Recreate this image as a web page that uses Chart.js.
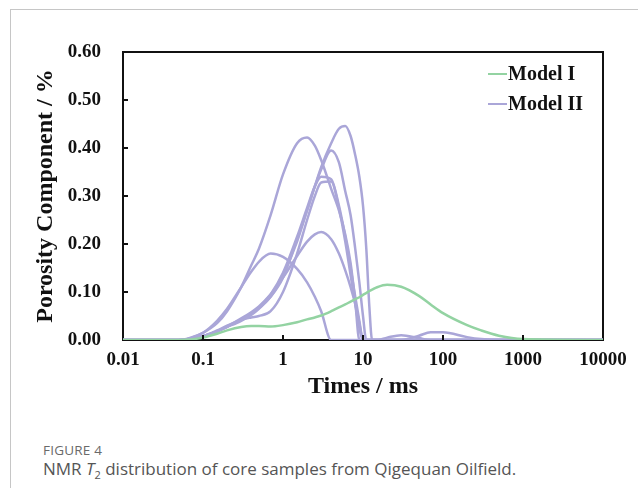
<!DOCTYPE html>
<html>
<head>
<meta charset="utf-8">
<script src="https://cdn.jsdelivr.net/npm/chart.js@4.4.1/dist/chart.umd.min.js"></script>
<style>
  html, body { margin: 0; padding: 0; background: #fff; }
  body { width: 638px; height: 488px; position: relative; overflow: hidden; }
  #frame { position: absolute; left: 10px; top: 9px; width: 640px; height: 490px;
           border-top: 1px solid #c6c6c6; border-left: 1px solid #c6c6c6; }
  #wrap { position: absolute; left: 0; top: 0; width: 638px; height: 420px; }
  .leg { position: absolute; font-family: 'Liberation Serif', 'Times New Roman', serif;
         font-weight: bold; font-size: 20px; color: #111; line-height: 20px; }
  .leg span.ln { display: inline-block; width: 19px; height: 2px; vertical-align: middle;
                 margin-right: 1px; position: relative; top: -1px; }
  #figlabel { position: absolute; left: 43px; top: 441px; font-family: 'Open Sans', sans-serif;
              font-size: 13.5px; color: #6a6a6a; letter-spacing: 0.2px; }
  #caption { position: absolute; left: 43px; top: 457px; font-family: 'Open Sans', sans-serif;
             font-size: 17px; color: #555; white-space: nowrap; }
  #caption sub { font-size: 11px; }
</style>
</head>
<body>
<div id="frame"></div>
<div id="wrap"><canvas id="c" width="638" height="420"></canvas></div>
<div class="leg" style="left:488px; top:63px;"><span class="ln" style="background:#93d3a2"></span>Model I</div>
<div class="leg" style="left:488px; top:93px;"><span class="ln" style="background:#aaa6d8"></span>Model II</div>
<div id="figlabel">FIGURE 4</div>
<div id="caption">NMR <i>T</i><sub>2</sub> distribution of core samples from Qigequan Oilfield.</div>
<script>
// T2 relaxation time grid (ms)
const times = [0.01, 0.02, 0.03, 0.05, 0.07, 0.1, 0.15, 0.2, 0.3, 0.4, 0.5, 0.7, 1, 1.5, 2, 2.5, 3, 4, 5, 6, 7, 8, 9, 10, 11, 12, 13, 15, 20, 30, 50, 70, 100, 200, 300, 500, 1000, 10000];

// Model I (green)
const modelI = [0, 0, 0, 0, 0.001, 0.005, 0.013, 0.02, 0.027, 0.029, 0.029, 0.028, 0.031, 0.037, 0.043, 0.047, 0.051, 0.06, 0.068, 0.074, 0.08, 0.085, 0.089, 0.094, 0.098, 0.102, 0.105, 0.11, 0.115, 0.111, 0.092, 0.074, 0.056, 0.031, 0.02, 0.009, 0.002, 0];

// Model II samples (purple)
const modelII_a = [0, 0, 0, 0, 0.004, 0.015, 0.04, 0.065, 0.11, 0.142, 0.163, 0.18, 0.173, 0.148, 0.12, 0.09, 0.06, 0, 0, 0, 0, 0, 0, 0, 0, 0, 0, 0, 0, 0, 0.009, 0.016, 0.016, 0.006, 0.002, 0, 0, 0];
const modelII_b = [0, 0, 0, 0, 0.005, 0.015, 0.035, 0.06, 0.11, 0.155, 0.19, 0.26, 0.345, 0.41, 0.422, 0.405, 0.375, 0.315, 0.27, 0.22, 0.16, 0.08, 0, 0, 0, 0, 0, 0, 0, 0, 0, 0, 0, 0, 0, 0, 0, 0];
const modelII_c = [0, 0, 0, 0, 0.002, 0.008, 0.018, 0.027, 0.04, 0.052, 0.065, 0.09, 0.13, 0.21, 0.27, 0.32, 0.36, 0.41, 0.44, 0.446, 0.425, 0.385, 0.34, 0.28, 0.19, 0.07, 0, 0, 0, 0, 0, 0, 0, 0, 0, 0, 0, 0];
const modelII_d = [0, 0, 0, 0, 0.002, 0.008, 0.018, 0.028, 0.042, 0.055, 0.067, 0.09, 0.135, 0.205, 0.27, 0.32, 0.355, 0.395, 0.37, 0.31, 0.26, 0.19, 0.12, 0.05, 0, 0, 0, 0, 0, 0, 0, 0, 0, 0, 0, 0, 0, 0];
const modelII_e = [0, 0, 0, 0, 0.002, 0.008, 0.018, 0.028, 0.042, 0.055, 0.068, 0.095, 0.14, 0.215, 0.275, 0.32, 0.34, 0.335, 0.28, 0.215, 0.15, 0.09, 0.04, 0, 0, 0, 0, 0, 0, 0, 0, 0, 0, 0, 0, 0, 0, 0];
const modelII_f = [0, 0, 0, 0, 0.002, 0.008, 0.02, 0.03, 0.042, 0.047, 0.05, 0.06, 0.1, 0.18, 0.25, 0.3, 0.328, 0.33, 0.275, 0.205, 0.135, 0.075, 0.025, 0, 0, 0, 0, 0, 0, 0, 0, 0, 0, 0, 0, 0, 0, 0];
const modelII_g = [0, 0, 0, 0, 0.002, 0.008, 0.018, 0.028, 0.045, 0.058, 0.07, 0.095, 0.13, 0.175, 0.205, 0.22, 0.225, 0.21, 0.18, 0.145, 0.11, 0.075, 0.035, 0, 0, 0, 0, 0, 0.005, 0.01, 0.004, 0, 0, 0, 0, 0, 0, 0];

// Axis ticks
const xTickValues = [0.01, 0.1, 1, 10, 100, 1000, 10000];
const xTickLabels = ['0.01', '0.1', '1', '10', '100', '1000', '10000'];
const yTickValues = [0, 0.1, 0.2, 0.3, 0.4, 0.5, 0.6];
const yTickLabels = ['0.00', '0.10', '0.20', '0.30', '0.40', '0.50', '0.60'];

const GREEN = '#93d3a2';
const PURPLE = '#aaa6d8';
const serif = "'Liberation Serif', 'Times New Roman', serif";

function series(arr) { return times.map((t, i) => ({ x: t, y: arr[i] })); }
function ds(label, arr, color) {
  return { label, data: series(arr), borderColor: color, borderWidth: 2.5, pointRadius: 0,
           fill: false, cubicInterpolationMode: 'monotone' };
}

const datasets = [
  ds('Model I', modelI, GREEN),
  ds('Model II', modelII_a, PURPLE),
  ds('Model II', modelII_b, PURPLE),
  ds('Model II', modelII_c, PURPLE),
  ds('Model II', modelII_d, PURPLE),
  ds('Model II', modelII_e, PURPLE),
  ds('Model II', modelII_f, PURPLE),
  ds('Model II', modelII_g, PURPLE)
];

const framePlugin = {
  id: 'frame',
  beforeDatasetsDraw(chart) {
    const { ctx, chartArea: a } = chart;
    ctx.save();
    ctx.strokeStyle = '#111';
    ctx.lineWidth = 2;
    ctx.strokeRect(a.left, a.top, a.right - a.left, a.bottom - a.top);
    ctx.restore();
  },
  afterDatasetsDraw(chart) {
    const { ctx, chartArea: a, scales } = chart;
    ctx.save();
    ctx.strokeStyle = '#111';
    ctx.lineWidth = 2;
    ctx.beginPath();
    xTickValues.slice(1, -1).forEach(v => {
      const x = Math.round(scales.x.getPixelForValue(v));
      ctx.moveTo(x, a.bottom); ctx.lineTo(x, a.bottom - 5);
    });
    yTickValues.slice(1, -1).forEach(v => {
      const y = Math.round(scales.y.getPixelForValue(v));
      ctx.moveTo(a.left, y); ctx.lineTo(a.left + 5, y);
    });
    ctx.stroke();
    ctx.restore();
  }
};

new Chart(document.getElementById('c'), {
  type: 'line',
  data: { datasets },
  plugins: [framePlugin],
  options: {
    responsive: false,
    animation: false,
    devicePixelRatio: 1,
    layout: { padding: { left: 31, top: 52, right: 35, bottom: 0 } },
    plugins: { legend: { display: false }, tooltip: { enabled: false } },
    scales: {
      x: {
        type: 'logarithmic', min: 0.01, max: 10000,
        grid: { display: false, drawTicks: false },
        border: { display: false },
        afterBuildTicks(s) { s.ticks = xTickValues.map(v => ({ value: v })); },
        afterFit(s) { s.height = 80; s.paddingLeft = 0; s.paddingRight = 0; },
        ticks: {
          autoSkip: false, maxRotation: 0, padding: 9, color: '#111',
          font: { family: serif, weight: 'bold', size: 19 },
          callback(v) { const i = xTickValues.indexOf(v); return i >= 0 ? xTickLabels[i] : ''; }
        },
        title: { display: true, text: 'Times / ms', color: '#111',
                 font: { family: serif, weight: 'bold', size: 24 },
                 padding: { top: 0, bottom: 19 } }
      },
      y: {
        min: 0, max: 0.6,
        grid: { display: false, drawTicks: false },
        border: { display: false },
        afterBuildTicks(s) { s.ticks = yTickValues.map(v => ({ value: v })); },
        afterFit(s) { s.width = 92; s.paddingTop = 0; s.paddingBottom = 0; },
        ticks: {
          padding: 22, color: '#111',
          font: { family: serif, weight: 'bold', size: 19 },
          callback(v) { const i = yTickValues.findIndex(t => Math.abs(t - v) < 1e-9); return i >= 0 ? yTickLabels[i] : ''; }
        },
        title: { display: true, text: 'Porosity Component / %', color: '#111',
                 font: { family: serif, weight: 'bold', size: 24 },
                 padding: { top: 0, bottom: 0 } }
      }
    }
  }
});
</script>
</body>
</html>
